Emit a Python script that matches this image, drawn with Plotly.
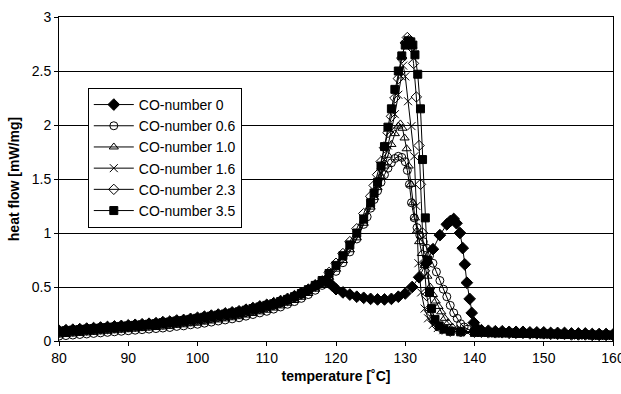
import plotly.graph_objects as go

# ---------------- data ----------------
names = ["CO-number 0", "CO-number 0.6", "CO-number 1.0",
         "CO-number 1.6", "CO-number 2.3", "CO-number 3.5"]

base_t = [80, 81, 82, 83, 84, 85, 86, 87, 88, 89, 90, 91, 92, 93, 94, 95, 96, 97, 98, 99,
          100, 101, 102, 103, 104, 105, 106, 107, 108, 109, 110, 111, 112, 113, 114, 115,
          116, 117]

tail_t = [141, 142, 143, 144, 145, 146, 147, 148, 149, 150,
          151, 152, 153, 154, 155, 156, 157, 158, 159, 160]

# CO-number 0
t0 = base_t + [118, 118.5, 119, 119.5, 120, 121, 122, 123, 124, 125, 126, 127, 128, 129,
               130, 131, 132, 133, 134, 135, 136, 136.5, 137, 137.4, 137.9, 138.3, 138.6,
               138.9, 139.3, 139.6, 139.9, 140.3] + tail_t
h0 = [0.095, 0.10, 0.105, 0.11, 0.115, 0.12, 0.125, 0.13, 0.135, 0.14, 0.145, 0.15, 0.155,
      0.16, 0.165, 0.175, 0.18, 0.19, 0.195, 0.205, 0.215, 0.225, 0.235, 0.245, 0.255, 0.265,
      0.275, 0.29, 0.305, 0.32, 0.335, 0.35, 0.37, 0.39, 0.415, 0.445, 0.475, 0.515,
      0.55, 0.56, 0.54, 0.51, 0.48, 0.45, 0.43, 0.41, 0.40, 0.39, 0.385, 0.385, 0.39, 0.41,
      0.44, 0.50, 0.59, 0.72, 0.85, 0.98, 1.08, 1.11, 1.13, 1.09, 1.00, 0.86, 0.71,
      0.54, 0.39, 0.26, 0.17, 0.12,
      0.10, 0.095, 0.09, 0.09, 0.085, 0.085, 0.085, 0.08, 0.08, 0.08,
      0.075, 0.075, 0.075, 0.07, 0.07, 0.07, 0.065, 0.065, 0.065, 0.06]

# CO-number 0.6
t1 = base_t + [118, 119, 120, 121, 122, 123, 124, 124.5, 125, 125.5, 126, 126.5, 127, 127.5,
               128, 128.5, 129, 129.5, 130, 130.3, 130.6, 130.9, 131.3, 131.7, 132.1, 132.6,
               133.1, 133.5, 134, 134.5, 135, 135.5, 136, 136.5, 137, 137.5, 138, 138.5,
               139, 140] + tail_t
h1 = [0.045, 0.05, 0.055, 0.06, 0.065, 0.07, 0.075, 0.08, 0.085, 0.09, 0.095, 0.10, 0.105,
      0.11, 0.115, 0.12, 0.125, 0.135, 0.14, 0.15, 0.155, 0.165, 0.175, 0.185, 0.195, 0.205,
      0.215, 0.23, 0.245, 0.26, 0.275, 0.295, 0.315, 0.34, 0.365, 0.395, 0.43, 0.47,
      0.515, 0.575, 0.645, 0.725, 0.825, 0.945, 1.08, 1.15, 1.23, 1.31, 1.39, 1.47, 1.54,
      1.60, 1.65, 1.69, 1.71, 1.70, 1.66, 1.58, 1.45, 1.28, 1.14, 1.05, 0.98, 0.92,
      0.86, 0.79, 0.72, 0.64, 0.56, 0.48, 0.41, 0.33, 0.26, 0.21, 0.16, 0.13,
      0.11, 0.09,
      0.085, 0.08, 0.08, 0.075, 0.075, 0.07, 0.07, 0.07, 0.065, 0.065,
      0.065, 0.06, 0.06, 0.06, 0.055, 0.055, 0.055, 0.05, 0.05, 0.05]

# CO-number 1.0
t2 = base_t + [118, 119, 120, 121, 122, 123, 124, 125, 125.5, 126, 126.5, 127, 127.5, 128,
               128.5, 129, 129.3, 129.6, 129.9, 130.2, 130.5, 130.8, 131.1, 131.4, 131.7,
               132, 132.4, 132.8, 133.2, 133.6, 134, 134.4, 134.8, 135.2, 135.7, 136.2,
               136.8, 137.5, 138.5, 140] + tail_t
h2 = [0.055, 0.06, 0.065, 0.07, 0.075, 0.08, 0.085, 0.09, 0.095, 0.10, 0.105, 0.11, 0.115,
      0.12, 0.125, 0.13, 0.135, 0.145, 0.15, 0.16, 0.165, 0.175, 0.185, 0.195, 0.205, 0.215,
      0.225, 0.24, 0.255, 0.27, 0.285, 0.305, 0.325, 0.35, 0.375, 0.405, 0.44, 0.48,
      0.525, 0.59, 0.665, 0.745, 0.845, 0.955, 1.09, 1.24, 1.33, 1.42, 1.52, 1.62, 1.72,
      1.82, 1.92, 1.99, 2.01, 1.97, 1.88, 1.78, 1.62, 1.45, 1.28, 1.14, 1.02,
      0.92, 0.81, 0.70, 0.60, 0.50, 0.43, 0.37, 0.32, 0.27, 0.21, 0.17,
      0.13, 0.11, 0.09, 0.08,
      0.08, 0.075, 0.075, 0.075, 0.07, 0.07, 0.07, 0.065, 0.065, 0.065,
      0.06, 0.06, 0.06, 0.055, 0.055, 0.055, 0.05, 0.05, 0.05, 0.045]

# CO-number 1.6
t3 = base_t + [118, 119, 120, 121, 122, 123, 124, 125, 125.5, 126, 126.5, 127, 127.5, 128,
               128.5, 129, 129.4, 129.7, 130, 130.4, 130.9, 131.3, 131.6, 131.9, 132.3,
               132.8, 133.3, 134, 134.7, 135.5, 137, 139, 140] + tail_t
h3 = [0.07, 0.075, 0.08, 0.085, 0.09, 0.095, 0.10, 0.105, 0.11, 0.115, 0.12, 0.125, 0.13,
      0.135, 0.14, 0.145, 0.15, 0.16, 0.165, 0.175, 0.18, 0.19, 0.20, 0.21, 0.22, 0.23, 0.24,
      0.255, 0.27, 0.285, 0.30, 0.32, 0.34, 0.36, 0.39, 0.42, 0.455, 0.495,
      0.54, 0.61, 0.69, 0.77, 0.87, 0.98, 1.11, 1.26, 1.35, 1.45, 1.56, 1.68, 1.81, 1.95,
      2.10, 2.28, 2.45, 2.55, 2.45, 2.22, 1.99, 1.71, 1.25, 0.72, 0.45,
      0.30, 0.21, 0.15, 0.12, 0.10, 0.09, 0.08, 0.08,
      0.075, 0.075, 0.07, 0.07, 0.07, 0.065, 0.065, 0.065, 0.06, 0.06,
      0.06, 0.055, 0.055, 0.055, 0.05, 0.05, 0.05, 0.045, 0.045, 0.045]

# CO-number 2.3
t4 = base_t + [118, 119, 120, 121, 122, 123, 124, 125, 125.5, 126, 126.5, 127, 127.5, 128,
               128.5, 129, 129.5, 130, 130.3, 130.6, 130.9, 131.2, 131.6, 132, 132.2, 132.5,
               132.8, 133.1, 133.5, 134, 134.6, 135.3, 136.5, 138, 140] + tail_t
h4 = [0.08, 0.085, 0.09, 0.095, 0.10, 0.105, 0.11, 0.115, 0.12, 0.125, 0.13, 0.135, 0.14,
      0.145, 0.15, 0.155, 0.165, 0.17, 0.18, 0.185, 0.195, 0.205, 0.215, 0.225, 0.235, 0.245,
      0.255, 0.27, 0.285, 0.30, 0.315, 0.335, 0.355, 0.375, 0.405, 0.435, 0.47, 0.51,
      0.555, 0.635, 0.72, 0.81, 0.92, 1.04, 1.18, 1.34, 1.44, 1.54, 1.66, 1.79, 1.93, 2.08,
      2.25, 2.43, 2.62, 2.76, 2.81, 2.79, 2.72, 2.57, 2.26, 1.81, 1.45, 1.00,
      0.65, 0.42, 0.28, 0.19, 0.14, 0.11, 0.09, 0.085, 0.08,
      0.08, 0.075, 0.075, 0.075, 0.07, 0.07, 0.07, 0.065, 0.065, 0.065,
      0.06, 0.06, 0.06, 0.055, 0.055, 0.055, 0.05, 0.05, 0.05, 0.05]

# CO-number 3.5
t5 = base_t + [118, 119, 120, 121, 122, 123, 124, 125, 125.5, 126, 126.5, 127, 127.5, 128,
               128.5, 129, 129.5, 130, 130.4, 130.8, 131.1, 131.4, 131.8, 132.2, 132.5,
               132.9, 133.2, 133.5, 133.8, 134.3, 134.9, 135.6, 136.5, 138, 140] + tail_t
h5 = [0.09, 0.095, 0.10, 0.105, 0.11, 0.115, 0.12, 0.125, 0.13, 0.135, 0.14, 0.145, 0.15,
      0.155, 0.16, 0.17, 0.175, 0.185, 0.19, 0.20, 0.21, 0.22, 0.23, 0.24, 0.25, 0.26,
      0.27, 0.285, 0.30, 0.315, 0.33, 0.345, 0.365, 0.385, 0.41, 0.44, 0.475, 0.515,
      0.56, 0.625, 0.70, 0.79, 0.89, 1.00, 1.13, 1.28, 1.37, 1.47, 1.62, 1.80, 1.98, 2.15,
      2.33, 2.50, 2.64, 2.74, 2.78, 2.77, 2.74, 2.65, 2.47, 2.15, 1.68,
      1.14, 0.75, 0.45, 0.30, 0.20, 0.14, 0.11, 0.09, 0.085, 0.08,
      0.08, 0.08, 0.075, 0.075, 0.075, 0.07, 0.07, 0.07, 0.07, 0.065,
      0.065, 0.065, 0.06, 0.06, 0.06, 0.06, 0.055, 0.055, 0.055, 0.055]

temps = [t0, t1, t2, t3, t4, t5]
flows = [h0, h1, h2, h3, h4, h5]

x_ticks = [80, 90, 100, 110, 120, 130, 140, 150, 160]
y_ticks = [0, 0.5, 1, 1.5, 2, 2.5, 3]

symbols = ["diamond", "circle-open", "triangle-up-open", "x-thin-open",
           "diamond-open", "square"]
sizes = [9, 8, 8, 8, 8, 8]

# ---------------- figure ----------------
fig = go.Figure()
for name, t, h, sym, sz in zip(names, temps, flows, symbols, sizes):
    fig.add_trace(go.Scatter(
        x=t, y=h, name=name, mode="lines+markers",
        line=dict(color="black", width=1),
        marker=dict(symbol=sym, size=sz, color="black",
                    line=dict(color="black", width=1)),
    ))

font = "Liberation Sans, Arial, sans-serif"
fig.update_layout(
    width=621, height=394,
    margin=dict(l=59, r=8, t=17, b=53),
    paper_bgcolor="white", plot_bgcolor="white",
    font=dict(family=font, size=14, color="black"),
    showlegend=True,
    legend=dict(x=0.052, y=0.781, xanchor="left", yanchor="top",
                bgcolor="white", bordercolor="black", borderwidth=1,
                font=dict(size=14), itemwidth=40, tracegroupgap=0),
    xaxis=dict(range=[80, 160], tickvals=x_ticks, ticks="outside", ticklen=4,
               tickcolor="black", showline=True, linecolor="black", linewidth=1,
               mirror=True, showgrid=False, zeroline=False,
               ticklabeloverflow="allow", automargin=False,
               title=dict(text="<b>temperature [˚C]</b>", font=dict(size=14), standoff=6)),
    yaxis=dict(range=[0, 3], tickvals=y_ticks, ticks="outside", ticklen=4,
               tickcolor="black", showline=True, linecolor="black", linewidth=1,
               mirror=True, showgrid=True, gridcolor="black", gridwidth=1,
               zeroline=False, automargin=False,
               title=dict(text="<b>heat flow [mW/mg]</b>", font=dict(size=14), standoff=8)),
)

fig.write_html("out.html")
